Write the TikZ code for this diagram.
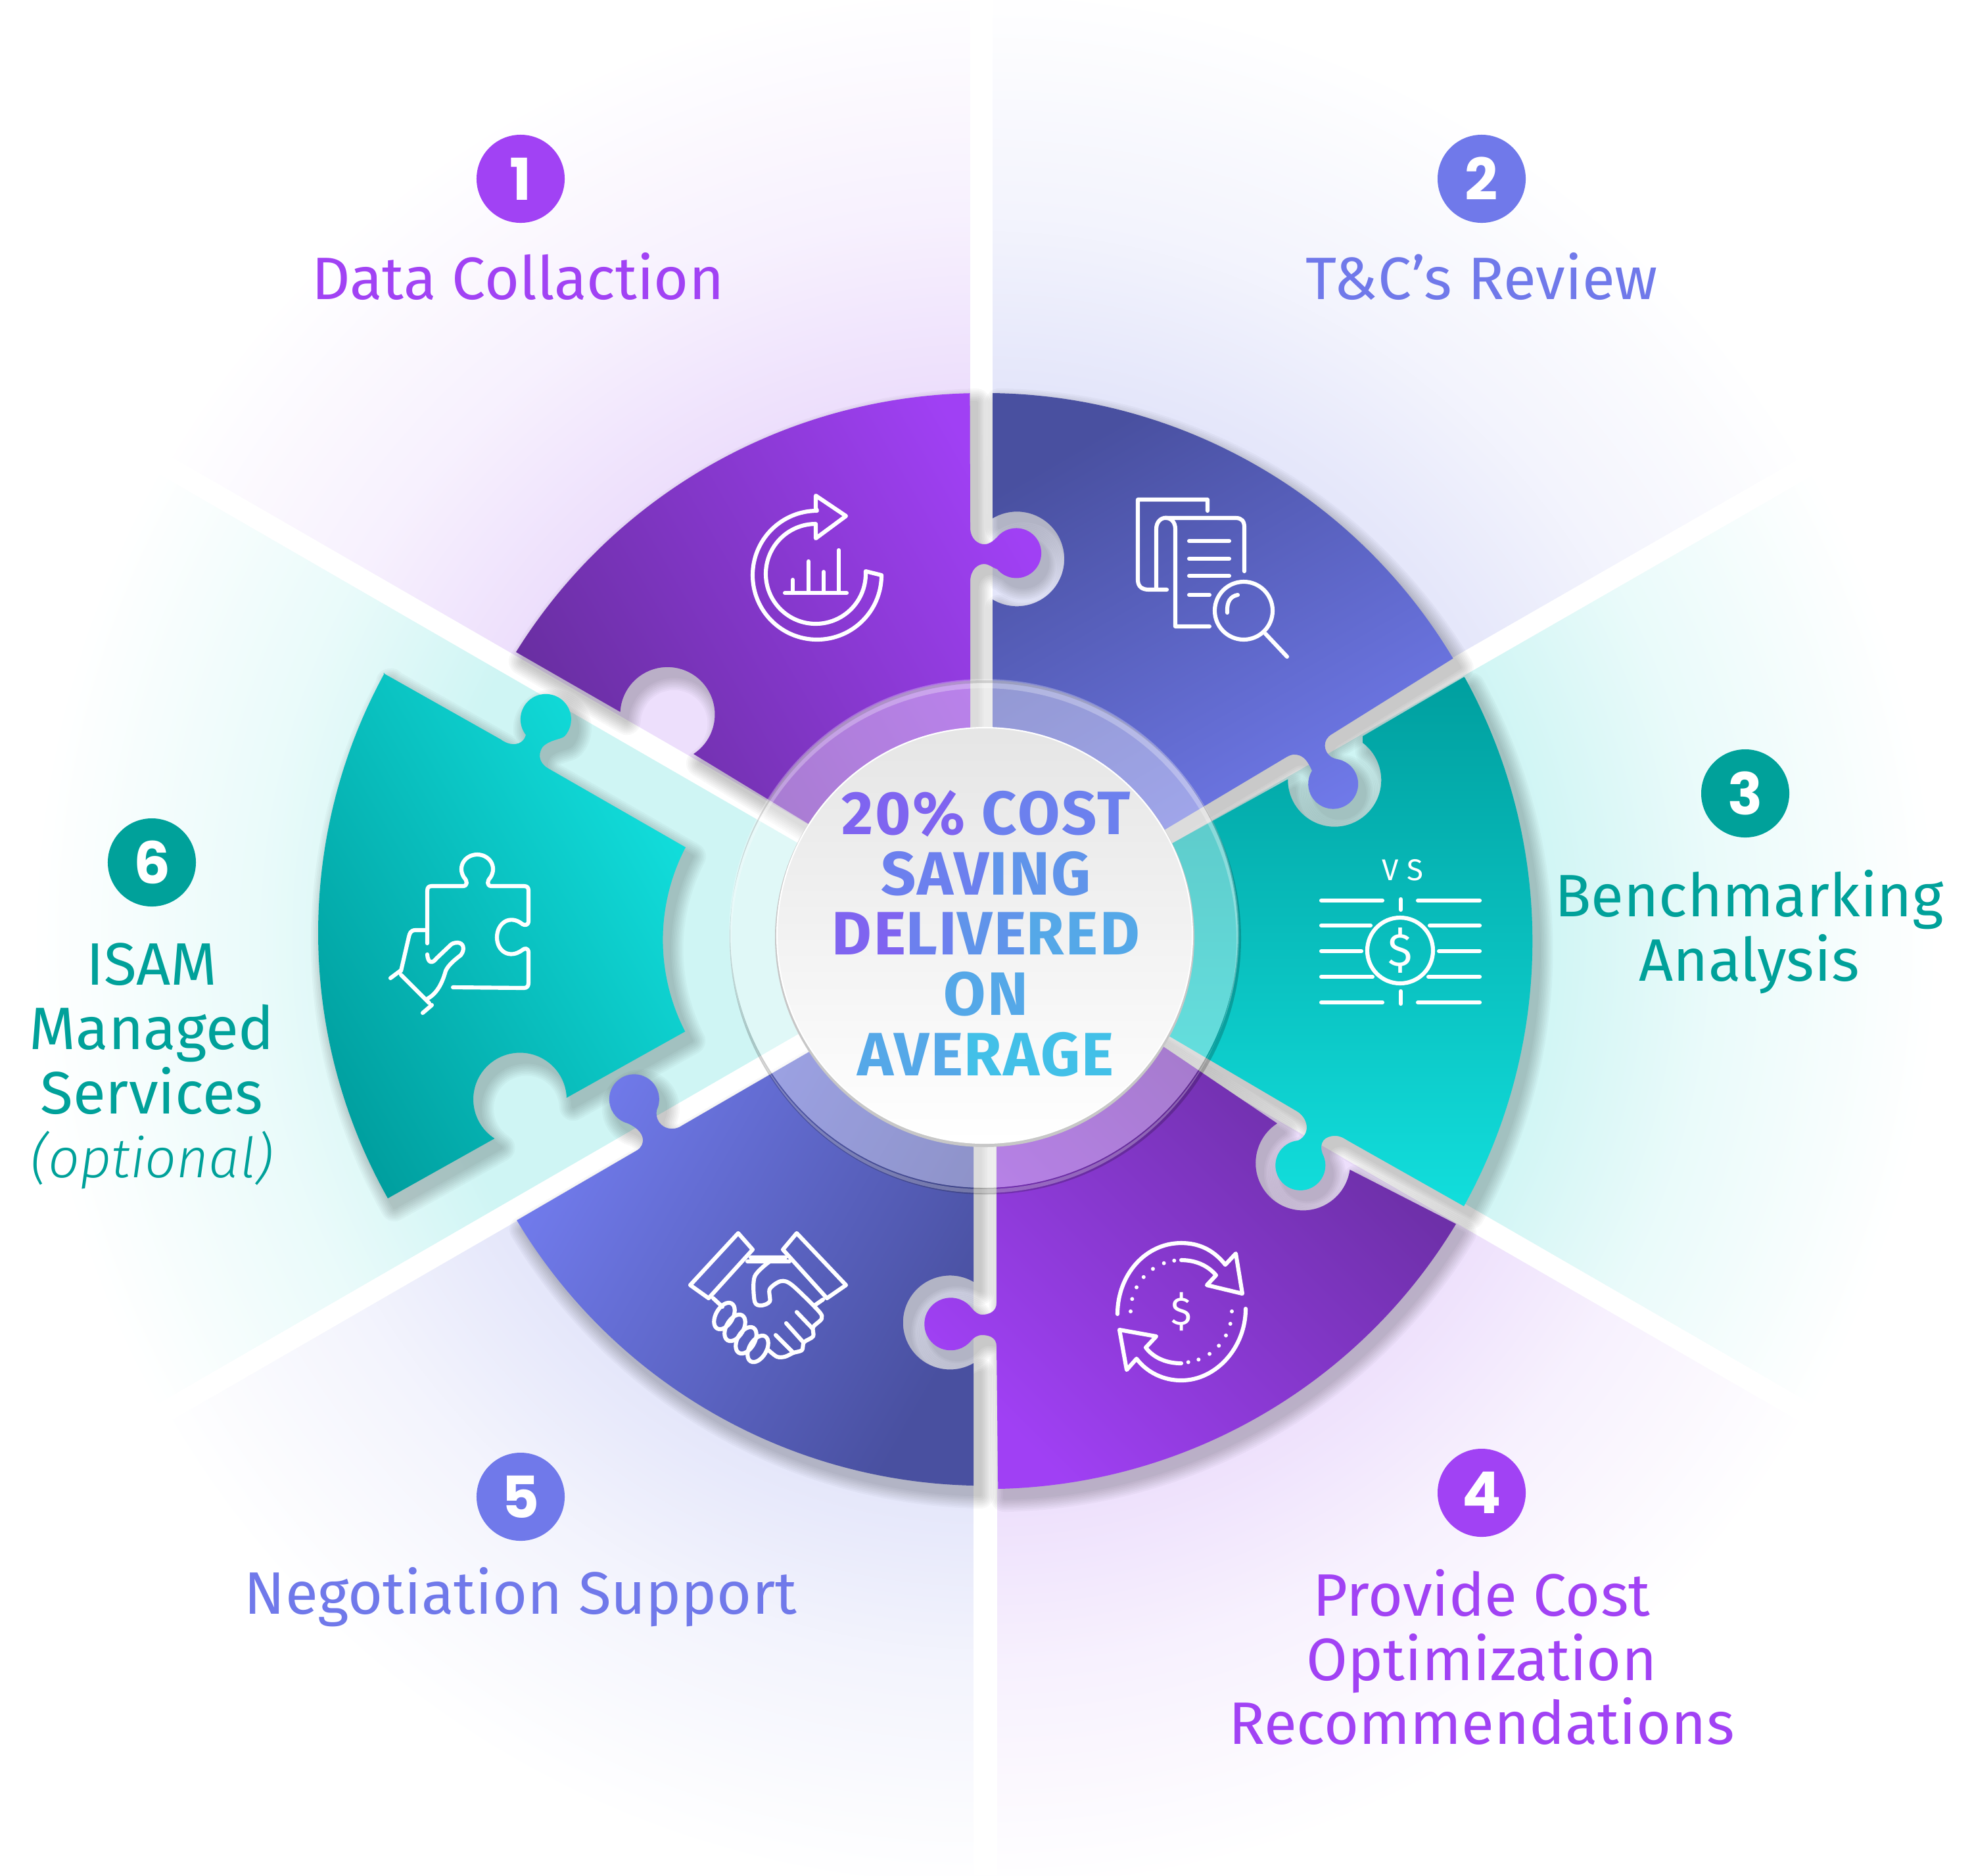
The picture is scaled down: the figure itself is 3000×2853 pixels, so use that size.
\documentclass[tikz,border=0pt]{standalone}
\usepackage{fontspec}
\setmainfont{Fira Sans}
\newfontfamily\lightf{Fira Sans Light}
\newfontfamily\numf{Poppins}
\definecolor{cpur}{HTML}{A142F4}
\definecolor{cblu}{HTML}{7079EA}
\definecolor{ctea}{HTML}{00A19A}
\definecolor{bgpur}{HTML}{EDDFFC}
\definecolor{bgblu}{HTML}{E4E6FA}
\definecolor{bgtea}{HTML}{CFF5F4}
\definecolor{dkpur}{HTML}{682EA0}
\definecolor{dkblu}{HTML}{4950A0}
\definecolor{dktea}{HTML}{009F9F}
\definecolor{brpur}{HTML}{A040F4}
\definecolor{brblu}{HTML}{727CEE}
\definecolor{brtea}{HTML}{12DEDC}
\definecolor{t1}{HTML}{7F64F0}
\definecolor{t2}{HTML}{6C80EE}
\definecolor{t3}{HTML}{6094EA}
\definecolor{t4}{HTML}{55A8E8}
\definecolor{t5}{HTML}{42C0E8}
\colorlet{mpur}{bgpur!45!white}
\colorlet{mblu}{bgblu!45!white}
\colorlet{mtea}{bgtea!45!white}
\pgfdeclareradialshading{wpur}{\pgfpointorigin}{color(0bp)=(bgpur);color(14.5bp)=(bgpur);color(19bp)=(mpur);color(25bp)=(white);color(50bp)=(white)}
\pgfdeclareradialshading{wblu}{\pgfpointorigin}{color(0bp)=(bgblu);color(14.5bp)=(bgblu);color(19bp)=(mblu);color(25bp)=(white);color(50bp)=(white)}
\pgfdeclareradialshading{wtea}{\pgfpointorigin}{color(0bp)=(bgtea);color(14.5bp)=(bgtea);color(19bp)=(mtea);color(25bp)=(white);color(50bp)=(white)}
% puzzle pieces, in reference pixels (y down, angles grow clockwise on the page)
\def\pieceA{(785,992) arc[start angle=211.9,end angle=268.7,radius=835.6] -- (1476,802)
 .. controls (1476,822) and (1490,828) .. (1497,828) .. controls (1505,828) and (1510,824) .. (1517,817)
 arc[start angle=220,end angle=500,radius=38]
 .. controls (1510,864) and (1505,858) .. (1497,858) .. controls (1488,858) and (1476,866) .. (1476,885)
 -- (1476,1300) -- (1300,1296) -- (1055,1147) arc[start angle=56.7,end angle=-177,radius=72] -- cycle}
\def\pieceB{(1510,598) arc[start angle=270.8,end angle=329.1,radius=830] -- (2026,1117)
 .. controls (2012,1125) and (2012,1143) .. (2026,1152) .. controls (2034,1156) and (2040,1155) .. (2046,1159)
 arc[start angle=298,end angle=572,radius=38]
 .. controls (1990,1160) and (1985,1150) .. (1972,1148) .. controls (1965,1147) and (1960,1150) .. (1955,1153)
 -- (1650,1335) -- (1510,1300) -- (1510,912) arc[start angle=121,end angle=-121,radius=72] -- cycle}
\def\pieceC{(2227,1030) -- (2073,1120) -- (2073,1130) arc[start angle=-53,end angle=181,radius=71]
 -- (1785,1282) -- (1700,1330) -- (1700,1530) -- (1972,1690)
 .. controls (1990,1700) and (1995,1725) .. (1975,1735)
 arc[start angle=265,end angle=-28,radius=38]
 .. controls (2006,1738) and (2015,1728) .. (2031,1728) .. controls (2040,1728) and (2045,1732) .. (2050,1735)
 -- (2227,1835) arc[start angle=29,end angle=-28.8,radius=832] -- cycle}
\def\pieceD{(1700,1545) -- (1943,1709) arc[start angle=237,end angle=8,radius=72] -- (2215,1862)
 arc[start angle=31.1,end angle=88.8,radius=834] -- (1516,2048)
 .. controls (1516,2035) and (1505,2031) .. (1494,2031) .. controls (1486,2031) and (1480,2036) .. (1476,2041)
 arc[start angle=42,end angle=318,radius=40]
 .. controls (1480,1992) and (1486,2000) .. (1494,2000) .. controls (1505,2000) and (1516,1995) .. (1516,1982)
 -- (1516,1700) -- cycle}
\def\pieceE{(1481,1700) -- (1481,1950) arc[start angle=-60,end angle=-300,radius=71.5] -- (1481,2260)
 arc[start angle=91.2,end angle=149.1,radius=830] -- (969,1750)
 .. controls (982,1742) and (984,1722) .. (955,1709)
 arc[start angle=105,end angle=385,radius=38]
 .. controls (996,1700) and (1004,1717) .. (1022,1717) .. controls (1028,1717) and (1032,1716) .. (1038,1712)
 -- (1300,1560) -- cycle}
\def\pieceF{(583,1024) -- (762,1125) .. controls (775,1135) and (795,1136) .. (800,1118)
 arc[start angle=142,end angle=401,radius=38.5]
 .. controls (855,1125) and (835,1125) .. (825,1137) .. controls (817,1150) and (822,1162) .. (834,1169)
 -- (1043,1289) arc[start angle=207.6,end angle=152.7,radius=304] -- (862,1670)
 arc[start angle=-2,end angle=-237,radius=71] -- (590,1823)
 arc[start angle=150.6,end angle=208.7,radius=823] -- cycle}
\newcommand\softshadow[1]{\foreach \w in {1.5,3,4.5,6,7.5,9,10.5,12}{
  \begin{scope}[transparency group,opacity=.028]
  \path[fill=black,draw=black,line width=\w pt,line join=round,shift={(10,14)}] #1;
  \end{scope}}}
\tikzset{
  iconline/.style={white,line width=1.75pt,line cap=round,line join=round},
  numdisc/.style={circle,minimum size=134*0.2845pt,inner sep=0pt,text=white,font=\numf\bfseries\fontsize{25}{25}\selectfont},
  lab/.style={inner sep=0pt,align=center,font=\fontsize{25.9}{27.8}\selectfont},
}
\newcommand\tc[2]{\textcolor{#1}{#2}}
\begin{document}
\begin{tikzpicture}[x=0.01cm,y=-0.01cm]
\useasboundingbox (0,0) rectangle (3000,2853);
\fill[white] (0,0) rectangle (3000,2853);
% pale wedges behind the wheel
\begin{scope}\clip (1498,1430) -- (1493,-1600) -- (-1100,-70) -- cycle; \path[shading=wpur] (1498,1430) circle[radius=1450]; \end{scope}
\begin{scope}\clip (1498,1430) -- (1493,-1600) -- (4096,-70) -- cycle; \path[shading=wblu] (1498,1430) circle[radius=1450]; \end{scope}
\begin{scope}\clip (1498,1430) -- (4096,-70) -- (4096,2930) -- cycle; \path[shading=wtea] (1498,1430) circle[radius=1450]; \end{scope}
\begin{scope}\clip (1498,1430) -- (4096,2930) -- (1499,4400) -- cycle; \path[shading=wpur] (1498,1430) circle[radius=1450]; \end{scope}
\begin{scope}\clip (1498,1430) -- (1499,4400) -- (-1100,2930) -- cycle; \path[shading=wblu] (1498,1430) circle[radius=1450]; \end{scope}
\begin{scope}\clip (1498,1430) -- (-1100,2930) -- (-1100,-70) -- cycle; \path[shading=wtea] (1498,1430) circle[radius=1450]; \end{scope}
% white bands between the wedges
\coordinate (hub) at (1498,1428);
\foreach \x/\y in {199/678,2797/682,2797/2178,199/2178}{\draw[white,line width=32*0.2845pt] (hub) -- (\x,\y);}
\fill[white] (1476,0) rectangle (1510,1430);
\fill[white] (1481,1430) rectangle (1516.5,2853);
% soft shadows, then the pieces
\softshadow{\pieceA}\softshadow{\pieceB}\softshadow{\pieceC}\softshadow{\pieceD}\softshadow{\pieceE}\softshadow{\pieceF}
\shade[bottom color=dkpur,top color=brpur,shading angle=-60] \pieceA;
\shade[bottom color=dkblu,top color=brblu,shading angle=-150] \pieceB;
\shade[bottom color=dktea,top color=brtea,shading angle=180] \pieceC;
\shade[bottom color=dkpur,top color=brpur,shading angle=135] \pieceD;
\shade[bottom color=dkblu,top color=brblu,shading angle=60] \pieceE;
\shade[bottom color=dktea,top color=brtea,shading angle=-60] \pieceF;
% glass ring round the hub
\fill[white,opacity=.36] (1497,1421) circle[radius=386];
\fill[black,opacity=.2,even odd rule] (1499,1428) circle[radius=389] (1497,1421) circle[radius=386];
\fill[white,opacity=.28,even odd rule] (1497,1421) circle[radius=388] (1497,1431) circle[radius=384];
% hub disc
\fill[black!22] (1498,1426) circle[radius=319];
\shade[top color=black!10,bottom color=white,draw=white,line width=.6pt] (1498,1423) circle[radius=316];
% icon 1: chart in a circular arrow
\draw[iconline] (1241,773) -- (1241,754) -- (1287,785) -- (1241,819) -- (1241,797)
  arc[start angle=270,end angle=-3,radius=76] -- (1341,875)
  arc[start angle=0,end angle=270,radius=98] -- cycle;
\draw[iconline] (1194,902) -- (1288,902) (1206,902) -- (1206,882) (1230,902) -- (1230,854) (1253,902) -- (1253,870) (1276,902) -- (1276,837);
% icon 2: documents and magnifier
\draw[iconline] (1837,777) -- (1837,760) -- (1731,760) -- (1731,882) .. controls (1731,893) and (1738,897) .. (1748,897) -- (1775,897);
\draw[iconline] (1759,894) -- (1759,805) .. controls (1759,782) and (1788,782) .. (1788,805) -- (1788,953) -- (1840,953);
\draw[iconline] (1773,788) -- (1880,788) .. controls (1889,788) and (1893,793) .. (1893,802) -- (1893,869);
\draw[iconline] (1809,823) -- (1870,823) (1809,850) -- (1870,850) (1809,876) -- (1870,876) (1809,905) -- (1840,905);
\draw[iconline] (1892,929) circle[radius=44];
\draw[iconline] (1867,932) .. controls (1866,915) and (1872,907) .. (1883,905);
\draw[iconline] (1925,964) -- (1958,999);
% icon 3: price comparison
\node[inner sep=0pt,text=white,font=\fontsize{13}{13}\selectfont] (vs) at (2134,1324) {V S};
\draw[iconline] (2010,1370) -- (2103,1370) (2157,1370) -- (2251,1370) (2131,1368) -- (2131,1384);
\draw[iconline] (2010,1408) -- (2085,1408) (2175,1408) -- (2251,1408);
\draw[iconline] (2010,1447) -- (2071,1447) (2189,1447) -- (2251,1447);
\draw[iconline] (2010,1486) -- (2088,1486) (2173,1486) -- (2251,1486);
\draw[iconline] (2010,1525) -- (2103,1525) (2157,1525) -- (2251,1525) (2131,1508) -- (2131,1527);
\draw[iconline] (2130,1446) circle[radius=50];
\node[inner sep=0pt,text=white,font=\fontsize{20}{20}\selectfont] (d3) at (2130,1446) {\$};
% icon 4: circulating money
\draw[iconline] (1797,1917) .. controls (1820,1917) and (1838,1926) .. (1850,1940) -- (1836,1955) -- (1890,1968) -- (1880,1907) -- (1864,1924)
  .. controls (1845,1900) and (1822,1891) .. (1797,1891) .. controls (1742,1891) and (1700,1940) .. (1700,1999);
\draw[iconline] (1797,2074) .. controls (1775,2074) and (1755,2066) .. (1743,2050) -- (1759,2033) -- (1703,2023) -- (1714,2084) -- (1729,2067)
  .. controls (1745,2088) and (1770,2100) .. (1797,2100) .. controls (1850,2100) and (1895,2050) .. (1895,1991);
\foreach \a in {180,194,208,222,236,250,262,0,14,28,42,56,70,82}{\fill[white] ({1797+77*cos(\a)},{1995+78*sin(\a)}) circle[radius=3];}
\node[inner sep=0pt,text=white,font=\fontsize{17}{17}\selectfont] (d4) at (1797,1995) {\$};
% icon 5: handshake
\draw[iconline] (1123,1876) -- (1145,1901) -- (1078,1975) -- (1050,1955) -- cycle;
\draw[iconline] (1212,1876) -- (1191,1901) -- (1258,1975) -- (1287,1955) -- cycle;
\draw[iconline] (1142,1913) -- (1195,1913) (1137,1919) -- (1201,1919) (1085,1975) -- (1099,1988) (1252,1977) -- (1239,1986);
\draw[iconline] plot[smooth,tension=.5] coordinates {(1171,1919) (1148,1942) (1148,1980) (1158,1986) (1171,1980) (1171,1961) (1188,1949) (1205,1955) (1245,1994) (1250,2006) (1237,2019) (1237,2033) (1223,2042) (1220,2054) (1207,2058) (1194,2064) (1182,2064) (1169,2054)};
\draw[iconline] (1212,1996) -- (1236,2021) (1196,2013) -- (1222,2042) (1180,2031) -- (1207,2058);
\foreach \cx/\cy in {1102/2002,1118/2020,1135/2039,1153/2052}{\draw[iconline,shift={(\cx,\cy)},rotate=60] (0,0) ellipse[x radius=22,y radius=13];}
% icon 6: puzzle piece in a hand
\draw[iconline] (650,1435) -- (650,1356) .. controls (650,1350) and (652,1348) .. (657,1348) -- (704,1348)
 .. controls (712,1348) and (711,1340) .. (706,1335) .. controls (695,1318) and (708,1300) .. (726,1300) .. controls (744,1300) and (757,1318) .. (746,1335) .. controls (741,1340) and (740,1348) .. (748,1348)
 -- (797,1348) .. controls (802,1348) and (804,1350) .. (804,1355) -- (804,1401) .. controls (804,1408) and (798,1408) .. (795,1406)
 .. controls (775,1390) and (756,1405) .. (756,1426) .. controls (756,1447) and (775,1460) .. (795,1445) .. controls (798,1442) and (804,1442) .. (804,1449)
 -- (804,1495) .. controls (804,1500) and (802,1503) .. (797,1503) -- (689,1502);
\draw[iconline] (650,1415) -- (632,1415) .. controls (625,1415) and (623,1420) .. (622,1425) -- (610,1477);
\draw[iconline] (594,1488) -- (610,1476) (610,1483) -- (653,1526) (643,1541) -- (657,1529);
\draw[iconline] (649,1520) .. controls (665,1512) and (673,1495) .. (678,1477) .. controls (682,1468) and (692,1460) .. (701,1453) .. controls (708,1444) and (705,1434) .. (696,1434) .. controls (690,1434) and (687,1436) .. (685,1438) -- (664,1458) .. controls (658,1466) and (651,1466) .. (650,1452);
% hub text
\node[inner sep=0pt,align=center,font=\addfontfeature{LetterSpace=3}\bfseries\fontsize{26.5}{26.1}\selectfont] (hubtext) at (1500,1420)
 {\tc{t1}{20\%} \tc{t2}{COST}\\
  \tc{t2}{SAV}\tc{t3}{ING}\\
  \tc{t1}{DE}\tc{t2}{LI}\tc{t3}{VE}\tc{t4}{RED}\\
  \tc{t4}{ON}\\
  \tc{t4}{AVE}\tc{t5}{RAGE}};
% numbered discs and labels
\node[numdisc,fill=cpur] (n1) at (792,272) {1};
\node[numdisc,fill=cblu] (n2) at (2254,272) {2};
\node[numdisc,fill=ctea] (n3) at (2655,1207) {3};
\node[numdisc,fill=cpur] (n4) at (2254,2271) {4};
\node[numdisc,fill=cblu] (n5) at (792,2277) {5};
\node[numdisc,fill=ctea] (n6) at (231,1312) {6};
\node[lab,text=cpur] (l1) at (788,421) {Data Collaction};
\node[lab,text=cblu] (l2) at (2254,421) {T\&C’s Review};
\node[lab,text=ctea] (l3) at (2661,1418) {Benchmarking\\Analysis};
\node[lab,text=cpur] (l4) at (2254,2521) {Provide Cost\\Optimization\\Recommendations};
\node[lab,text=cblu] (l5) at (792,2430) {Negotiation Support};
\node[lab,text=ctea] (l6) at (231,1622) {ISAM\\Managed\\Services\\{\lightf\itshape\fontsize{24}{27.8}\selectfont (optional)}};
\end{tikzpicture}
\end{document}
